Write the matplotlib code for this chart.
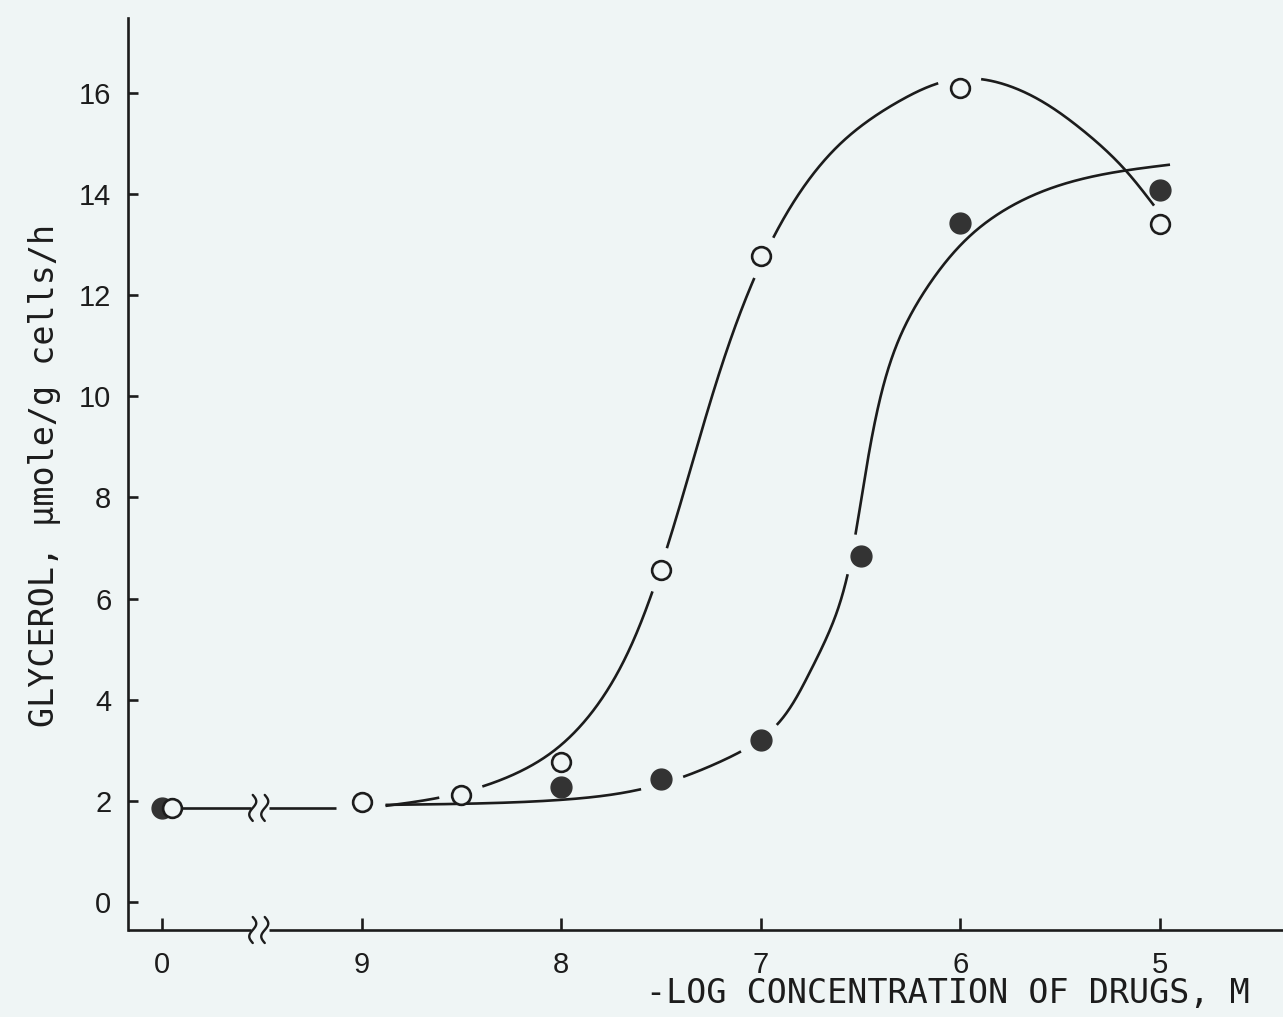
import numpy as np
import matplotlib.pyplot as plt
from matplotlib.transforms import ScaledTranslation

# glycerol release (umole/g cells/h) vs -log molar drug concentration
tick_labels = ["0", "9", "8", "7", "6", "5"]
y_ticks = [0, 2, 4, 6, 8, 10, 12, 14, 16]

ctrl_open = 1.86
ctrl_filled = 1.86

open_x = [9, 8.5, 8, 7.5, 7, 6, 5]
open_y = [1.98, 2.11, 2.77, 6.56, 12.77, 16.1, 13.4]

filled_x = [8, 7.5, 7, 6.5, 6, 5]
filled_y = [2.27, 2.43, 3.2, 6.84, 13.43, 14.08]

# hand-drawn fit curves as knots (-log M, value)
open_curve_x = [8.88, 8.59, 8.39, 8.05, 7.80, 7.54, 7.03, 6.85, 6.60, 6.30, 6.00, 5.70, 5.40, 5.18, 5.03]
open_curve_y = [1.90, 2.08, 2.29, 2.95, 4.00, 6.17, 12.36, 13.75, 15.00, 15.85, 16.28, 16.05, 15.30, 14.50, 13.77]
filled_curve_x = [8.88, 8.40, 8.00, 7.60, 7.20, 6.93, 6.76, 6.62, 6.52, 6.42, 6.30, 6.15, 5.93, 5.57, 5.18, 4.95]
filled_curve_y = [1.92, 1.95, 2.02, 2.23, 2.78, 3.46, 4.50, 5.72, 7.40, 9.65, 11.20, 12.25, 13.25, 14.08, 14.46, 14.58]
# the curves are broken where they run through these symbols
open_gaps = [8.5, 7.5, 7, 6]
filled_gaps = [7.5, 7, 6.5]

ctrl_end = 9.13   # control line runs out to just before the 10^-9 point
break_pos = 0.48  # axis break between control and 10^-9

bg = "#eff5f5"
ink = "#1c1c1c"
dot = "#333333"
lw = 1.9
gap_px = 22


def pos(x):
    # evenly spaced axis: control at 0, then 9 -> 1 ... 5 -> 5
    return 10 - np.asarray(x, dtype=float)


def natural_spline(t, v, tt):
    n = len(t)
    h = np.diff(t)
    A = np.zeros((n, n))
    r = np.zeros(n)
    A[0, 0] = A[-1, -1] = 1
    for i in range(1, n - 1):
        A[i, i - 1] = h[i - 1]
        A[i, i] = 2 * (h[i - 1] + h[i])
        A[i, i + 1] = h[i]
        r[i] = 6 * ((v[i + 1] - v[i]) / h[i] - (v[i] - v[i - 1]) / h[i - 1])
    M = np.linalg.solve(A, r)
    k = np.clip(np.searchsorted(t, tt) - 1, 0, n - 2)
    a = t[k + 1] - tt
    b = tt - t[k]
    hk = h[k]
    return (M[k] * a**3 / (6 * hk) + M[k + 1] * b**3 / (6 * hk)
            + (v[k] / hk - M[k] * hk / 6) * a + (v[k + 1] / hk - M[k + 1] * hk / 6) * b)


def draw_curve(ax, xs, ys, gaps, gap_vals):
    # spline in screen space (chord-length parameter), then cut round symbols
    pts = ax.transData.transform(np.column_stack([pos(xs), ys]))
    t = np.concatenate([[0], np.cumsum(np.hypot(*np.diff(pts, axis=0).T))])
    tt = np.linspace(0, t[-1], 1500)
    px = natural_spline(t, pts[:, 0], tt)
    py = natural_spline(t, pts[:, 1], tt)
    mask = np.zeros_like(tt, dtype=bool)
    centers = ax.transData.transform(np.column_stack([pos(gaps), gap_vals]))
    for cx, cy in centers:
        mask |= np.hypot(px - cx, py - cy) < gap_px
    px[mask] = np.nan
    py[mask] = np.nan
    d = ax.transData.inverted().transform(np.column_stack([px, py]))
    ax.plot(d[:, 0], d[:, 1], color=ink, lw=lw, zorder=2, solid_capstyle="butt")


fig = plt.figure(figsize=(12.83, 10.17), dpi=100)
fig.patch.set_facecolor(bg)
ax = fig.add_axes([128 / 1283, 87 / 1017, 1155 / 1283, 912 / 1017])
ax.set_facecolor(bg)
ax.set_xlim(-0.17, 5.616)
ax.set_ylim(-0.554, 17.48)

for s in ["top", "right", "bottom"]:
    ax.spines[s].set_visible(False)
ax.spines["left"].set_linewidth(lw)
ax.spines["left"].set_color(ink)

ax.set_xticks(range(len(tick_labels)))
ax.set_xticklabels(tick_labels)
ax.set_yticks(y_ticks)
ax.tick_params(axis="x", direction="in", length=8.5, width=lw, color=ink, pad=15,
               labelsize=21, labelcolor=ink)
ax.tick_params(axis="y", direction="in", length=7, width=lw, color=ink, pad=12,
               labelsize=21, labelcolor=ink)
for lab in ax.get_xticklabels() + ax.get_yticklabels():
    lab.set_family("Liberation Sans")

# pixel <-> data helpers for the break marks
to_px = ax.transData.transform
to_data = ax.transData.inverted().transform


def squiggle_pair(xd, yd):
    cx, cy = to_px((xd, yd))
    t = np.linspace(-1, 1, 60)
    for dx in (-5, 7):
        px = cx + dx - 3.5 * np.sin(np.pi * t)
        py = cy - 13 * t
        pts = to_data(np.column_stack([px, py]))
        ax.plot(pts[:, 0], pts[:, 1], color=ink, lw=lw * 0.9, clip_on=False,
                solid_capstyle="round", zorder=4)


def broken_hline(x0, x1, yd):
    cx, cy = to_px((break_pos, yd))
    left = to_data((cx - 7, cy))[0]
    right = to_data((cx + 11, cy))[0]
    ax.plot([x0, left], [yd, yd], color=ink, lw=lw, clip_on=False, zorder=2,
            solid_capstyle="butt")
    ax.plot([right, x1], [yd, yd], color=ink, lw=lw, clip_on=False, zorder=2,
            solid_capstyle="butt")
    squiggle_pair(break_pos, yd)


# x axis with its break
broken_hline(ax.get_xlim()[0], ax.get_xlim()[1], ax.get_ylim()[0])

# control level carried across the break to the first dose
broken_hline(0, pos(ctrl_end), ctrl_filled)

open_lookup = dict(zip(open_x, open_y))
filled_lookup = dict(zip(filled_x, filled_y))
draw_curve(ax, open_curve_x, open_curve_y, open_gaps, [open_lookup[g] for g in open_gaps])
draw_curve(ax, filled_curve_x, filled_curve_y, filled_gaps, [filled_lookup[g] for g in filled_gaps])

# symbols
ax.plot(pos(filled_x), filled_y, "o", ms=15, mfc=dot, mec=dot, ls="none", zorder=3)
ax.plot(pos(open_x), open_y, "o", ms=13.5, mfc=bg, mec=ink, mew=lw, ls="none", zorder=3)

ax.plot([0], [ctrl_filled], "o", ms=15, mfc=dot, mec=dot, ls="none", zorder=3)
shift = ax.transData + ScaledTranslation(10 / 100, 0, fig.dpi_scale_trans)
ax.plot([0], [ctrl_open], "o", ms=13.5, mfc=bg, mec=ink, mew=lw, ls="none",
        zorder=4, transform=shift)

fig.text(45 / 1283, 1 - 475 / 1017, "GLYCEROL, \u03bcmole/g cells/h", rotation=90,
         ha="center", va="center", family="DejaVu Sans Mono", fontsize=24, color=ink)
fig.text(1250 / 1283, 1 - 993 / 1017, "-LOG CONCENTRATION OF DRUGS, M",
         ha="right", va="center", family="DejaVu Sans Mono", fontsize=24, color=ink)

fig.savefig("out.png", dpi=100, facecolor=bg)
